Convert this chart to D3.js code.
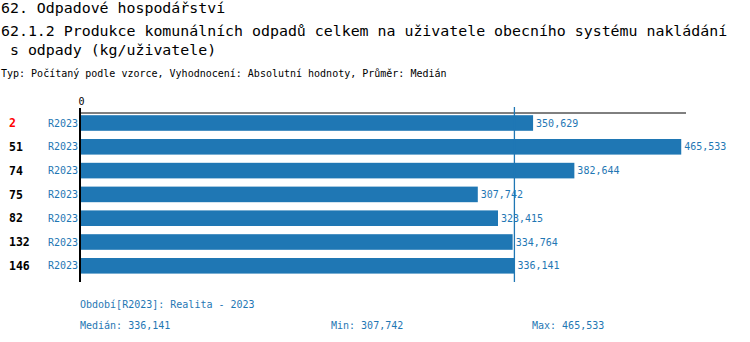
<!DOCTYPE html>
<html><head><meta charset="utf-8">
<script src="https://cdn.jsdelivr.net/npm/d3@7"></script>
<style>body{margin:0;background:#fff}svg{display:block}</style>
</head><body>
<script>
const titleLines = ["62. Odpadové hospodářství",
  "62.1.2 Produkce komunálních odpadů celkem na uživatele obecního systému nakládání",
  " s odpady (kg/uživatele)"];
const subtitle = "Typ: Počítaný podle vzorce, Vyhodnocení: Absolutní hodnoty, Průměr: Medián";
const ranks = ["2","51","74","75","82","132","146"];
const periods = ["R2023","R2023","R2023","R2023","R2023","R2023","R2023"];
const values = [350.629, 465.533, 382.644, 307.742, 323.415, 334.764, 336.141];
const highlight = [true,false,false,false,false,false,false];
const median = 336.141, minV = 307.742, maxV = 465.533;
const fmt = v => v.toFixed(3).replace(".", ",");

const W = 750, H = 342;
const blue = "#1f77b4";
const mono = "'DejaVu Sans Mono', 'Liberation Mono', monospace";
const svg = d3.select("body").append("svg").attr("width", W).attr("height", H);

const tl = [13, 36, 55];
titleLines.forEach((t,i) => svg.append("text").attr("x", 1).attr("y", tl[i])
  .attr("font-family", mono).attr("font-size", 14.9).attr("fill", "#000")
  .attr("xml:space","preserve").style("white-space","pre").text(t));
svg.append("text").attr("x", 1).attr("y", 77).attr("font-family", mono)
  .attr("font-size", 10).attr("fill", "#000").text(subtitle);

const x = d3.scaleLinear().domain([0, 470]).range([81, 687]);
const idx = d3.range(values.length);
const y = d3.scaleBand().domain(idx).range([111.1, 277.7]).paddingInner(0.345).paddingOuter(0.1725);

// top axis
const ax = svg.append("g").attr("transform", "translate(0,113)")
  .call(d3.axisTop(x).tickValues([0]).tickSize(4).tickFormat(d3.format("d")));
ax.select(".domain").attr("stroke", "#000").attr("d", `M${x(0)-1},0H686`);
ax.selectAll(".tick line").remove();
ax.selectAll(".tick text").attr("font-family", mono).attr("font-size", 10).attr("fill", "#000").attr("dy", "-1");

// bars
svg.append("g").selectAll("rect").data(idx).join("rect")
  .attr("x", x(0)).attr("y", i => y(i)).attr("width", i => x(values[i]) - x(0))
  .attr("height", y.bandwidth()).attr("fill", blue);

// median line
svg.append("line").attr("x1", x(median)).attr("x2", x(median))
  .attr("y1", 107).attr("y2", 282).attr("stroke", blue).attr("stroke-width", 1.3);

// vertical axis
svg.append("line").attr("x1", 80).attr("x2", 80).attr("y1", 108).attr("y2", 282)
  .attr("stroke", "#000").attr("stroke-width", 2);

// labels
const cy = i => y(i) + y.bandwidth()/2;
svg.append("g").selectAll("text").data(idx).join("text")
  .attr("x", 9).attr("y", cy).attr("dy", "0.36em")
  .attr("font-family", mono).attr("font-weight", "bold").attr("font-size", 11.5)
  .attr("fill", i => highlight[i] ? "#ff0000" : "#000").text(i => ranks[i]);
svg.append("g").selectAll("text").data(idx).join("text")
  .attr("x", 48).attr("y", cy).attr("dy", "0.36em")
  .attr("font-family", mono).attr("font-size", 10).attr("fill", blue).text(i => periods[i]);
svg.append("g").selectAll("text").data(idx).join("text")
  .attr("x", i => x(values[i]) + 3).attr("y", cy).attr("dy", "0.36em")
  .attr("font-family", mono).attr("font-size", 10).attr("fill", blue).text(i => fmt(values[i]));

// footer
const foot = (t, xx, yy) => svg.append("text").attr("x", xx).attr("y", yy)
  .attr("font-family", mono).attr("font-size", 10).attr("fill", blue).text(t);
foot("Období[R2023]: Realita - 2023", 80, 308);
foot("Medián: " + fmt(median), 80, 329);
foot("Min: " + fmt(minV), 331, 329);
foot("Max: " + fmt(maxV), 532, 329);
</script>
</body></html>
